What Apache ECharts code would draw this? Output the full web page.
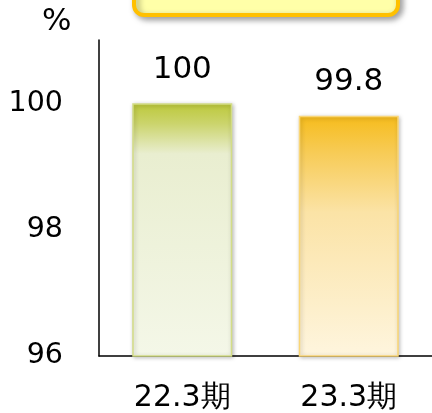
<!DOCTYPE html>
<html><head><meta charset="utf-8">
<script src="https://cdn.jsdelivr.net/npm/echarts@6/dist/echarts.min.js"></script>
<style>html,body{margin:0;padding:0;background:#fff}#c{width:432px;height:413px}</style>
</head><body><div id="c"></div>
<script>
const categories = ['22.3期', '23.3期'];
const values = [100, 99.8];
const yTicks = [96, 98, 100];

const font = 'DejaVu Sans';
const greenGrad = new echarts.graphic.LinearGradient(0,0,0,1,[
  {offset:0,color:'#BCC83A'},{offset:0.08,color:'#CBD46C'},{offset:0.2,color:'#E9EED0'},{offset:1,color:'#F4F7E8'}]);
const orangeGrad = new echarts.graphic.LinearGradient(0,0,0,1,[
  {offset:0,color:'#F6BC1C'},{offset:0.15,color:'#F7CB55'},{offset:0.4,color:'#FBE3A6'},{offset:1,color:'#FEF5DE'}]);

const chart = echarts.init(document.getElementById('c'));
chart.setOption({
  animation:false,
  grid:{left:99,right:0,top:40,bottom:56},
  xAxis:{type:'category',data:categories,
    axisLine:{lineStyle:{color:'#000',width:1.5}},axisTick:{show:false},
    axisLabel:{color:'#000',fontSize:30,fontFamily:font,margin:27}},
  yAxis:{type:'value',min:96,max:101,interval:2,
    axisLine:{show:true,lineStyle:{color:'#000',width:1.5}},axisTick:{show:false},splitLine:{show:false},
    axisLabel:{color:'#000',fontSize:28.5,fontFamily:font,margin:36,
      formatter:v=>yTicks.includes(v)?String(v):''}},
  graphic:[
    {type:'text',left:42,top:6,style:{text:'%',fontSize:31,fontFamily:font,fill:'#000'}},
    {type:'rect',shape:{x:134,y:-30,width:264,height:45,r:10},
      style:{fill:'#FFFFA8',stroke:'#FFC000',lineWidth:4,shadowBlur:6,shadowOffsetX:3,shadowOffsetY:3,shadowColor:'rgba(0,0,0,0.35)'}}
  ],
  series:[{type:'bar',barWidth:100,
    data:[
      {value:values[0],itemStyle:{color:greenGrad,borderColor:'#D3DD86',borderWidth:1.5}},
      {value:values[1],itemStyle:{color:orangeGrad,borderColor:'#FAD676',borderWidth:1.5}}],
    itemStyle:{shadowBlur:4,shadowColor:'rgba(0,0,0,0.25)',shadowOffsetX:1,shadowOffsetY:1},
    label:{show:true,position:'top',distance:18,color:'#000',fontSize:31,fontFamily:font}
  }]
});
</script></body></html>
